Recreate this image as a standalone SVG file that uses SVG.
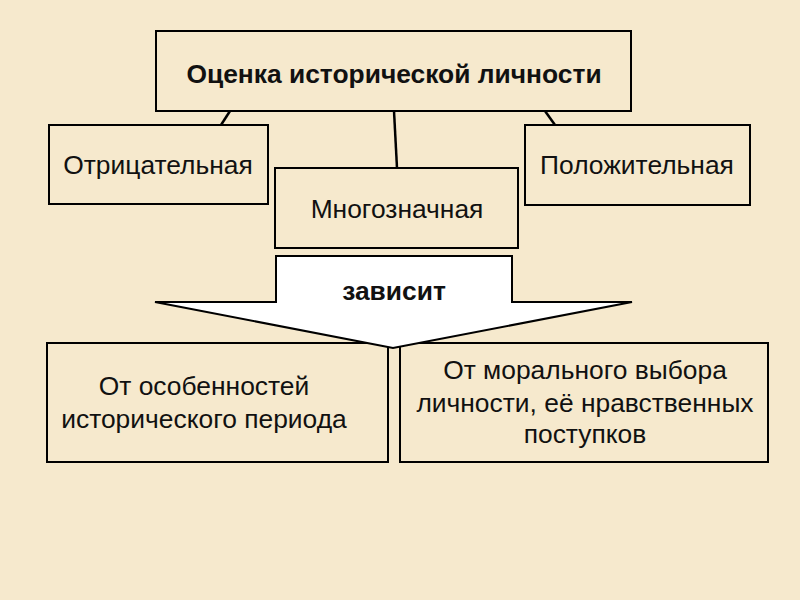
<svg xmlns="http://www.w3.org/2000/svg" width="800" height="600" viewBox="0 0 800 600">
<style>
.box{fill:none;stroke:#000;stroke-width:2}
.t{font-family:"Liberation Sans",Arial,sans-serif;font-size:26.4px;fill:#111;text-anchor:middle}
.b{font-weight:bold}
.c{stroke:#000;stroke-width:2.5;fill:none}
</style>
<rect width="800" height="600" fill="#f6e9cd"/>
<g id="connectors">
<line class="c" x1="230" y1="111" x2="221" y2="125"/>
<line class="c" x1="394" y1="111" x2="397" y2="168"/>
<line class="c" x1="545" y1="111" x2="555" y2="125"/>
</g>
<g id="n-top"><rect class="box" x="156" y="31" width="475" height="80"/><text class="t b" x="394" y="83">Оценка исторической личности</text></g>
<g id="n-neg"><rect class="box" x="49" y="125" width="219" height="79"/><text class="t" x="158" y="174">Отрицательная</text></g>
<g id="n-pos"><rect class="box" x="525" y="125" width="225" height="80"/><text class="t" x="637" y="174">Положительная</text></g>
<g id="n-mid"><rect class="box" x="275" y="168" width="243" height="80"/><text class="t" x="397" y="218">Многозначная</text></g>
<g id="n-left"><rect class="box" x="47" y="343" width="341" height="119"/><text class="t" x="204" y="395">От особенностей</text><text class="t" x="204" y="428">исторического периода</text></g>
<g id="n-right"><rect class="box" x="400" y="343" width="368" height="119"/><text class="t" x="585" y="379">От морального выбора</text><text class="t" x="585" y="412">личности, её нравственных</text><text class="t" x="585" y="443">поступков</text></g>
<g id="n-arrow"><path d="M276,256 L512,256 L512,302 L632,302 L393,348 L155,302 L276,302 Z" fill="#fff" stroke="#000" stroke-width="2" stroke-linejoin="miter"/><text class="t b" x="394" y="300">зависит</text></g>
</svg>
